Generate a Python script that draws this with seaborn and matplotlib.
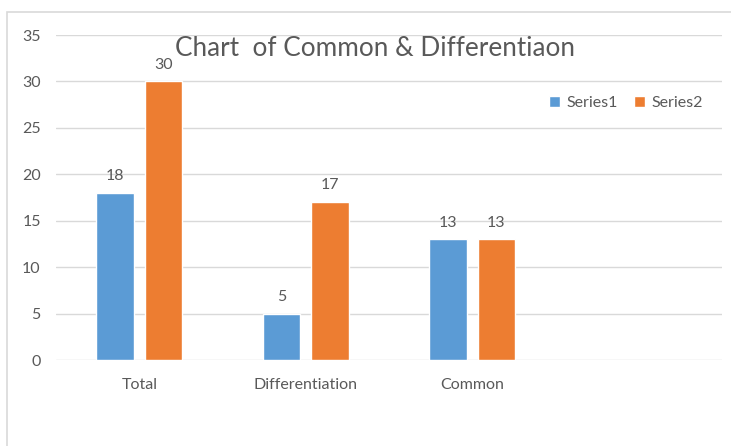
import numpy as np
import pandas as pd
import matplotlib
matplotlib.use('Agg')
import matplotlib.pyplot as plt
from matplotlib.patches import Rectangle
import seaborn as sns

# chart values
categories = ['Total', 'Differentiation', 'Common']
series1 = [18, 5, 13]
series2 = [30, 17, 13]
series_names = ['Series1', 'Series2']
yticks = [0, 5, 10, 15, 20, 25, 30, 35]

data = pd.DataFrame({
    'category': categories * 2,
    'value': series1 + series2,
    'series': [series_names[0]] * len(categories) + [series_names[1]] * len(categories),
})

sns.set_theme(style='white')
plt.rcParams['font.family'] = ['Lato', 'DejaVu Sans']
text_gray = '#595959'
grid_gray = '#d9d9d9'

fig = plt.figure(figsize=(7.31, 4.46), dpi=100)
ax = fig.add_axes([56 / 731, 86 / 446, 666 / 731, 325 / 446])

sns.barplot(data=data, x='category', y='value', hue='series', order=categories,
            palette=['#5B9BD5', '#ED7D31'], width=0.58, gap=0.22,
            saturation=1, errorbar=None, ax=ax)

for cont in ax.containers:
    ax.bar_label(cont, padding=7, fontsize=11.5, color=text_gray)

# empty fourth category slot
ax.set_xlim(-0.5, 3.5)
ax.set_ylim(0, 35)
ax.set_yticks(yticks)
ax.yaxis.grid(True, color=grid_gray, linewidth=1)
ax.set_axisbelow(True)
for s in ax.spines.values():
    s.set_visible(False)
ax.tick_params(axis='both', length=0, labelsize=11.5, labelcolor=text_gray)
ax.tick_params(axis='y', pad=11)
ax.tick_params(axis='x', pad=13)
ax.set_xlabel('')
ax.set_ylabel('')

ax.legend(loc='center', bbox_to_anchor=(0.856, 0.79), ncol=2, frameon=False,
          handlelength=0.7, handleheight=0.7, handletextpad=0.4, columnspacing=1.0,
          fontsize=11.5, labelcolor=text_gray)

fig.text(375 / 731, 1 - 48 / 446, 'Chart  of Common & Differentiaon',
         ha='center', va='center', fontsize=18.8, color=text_gray)

# chart border (only left and top are visible)
fig.patches.append(Rectangle((7 / 731, -0.1), 1.1, 1 - 12 / 446 + 0.1,
                             transform=fig.transFigure, fill=False,
                             edgecolor=grid_gray, linewidth=1.2))

fig.savefig('out.png', dpi=100)
